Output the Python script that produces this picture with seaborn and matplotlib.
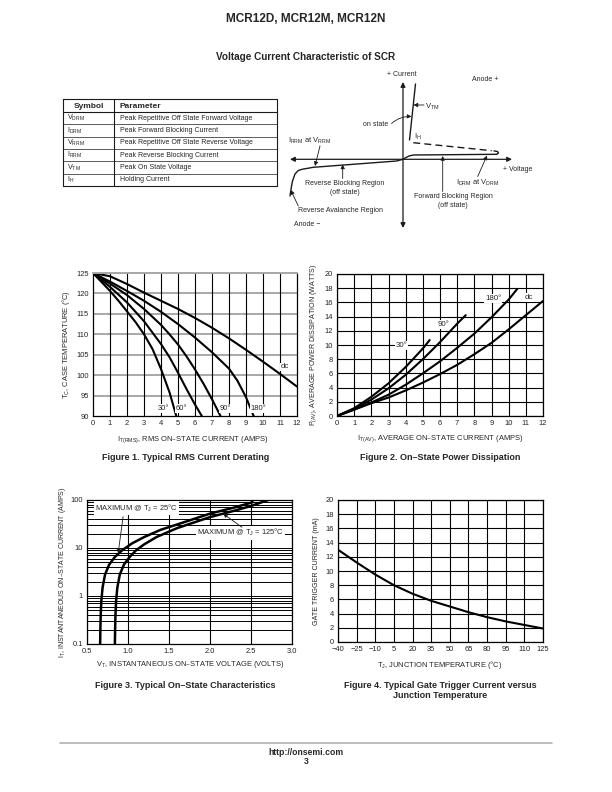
import numpy as np
import pandas as pd
import matplotlib
matplotlib.use("Agg")
import matplotlib.pyplot as plt
import seaborn as sns
from matplotlib.ticker import LogLocator, NullFormatter

sns.set_theme(style="white")
plt.rcParams['font.family'] = ['Liberation Sans', 'DejaVu Sans']
plt.rcParams['mathtext.default'] = 'regular'

# ---------------- data ----------------
# Figure 1: case temperature vs RMS current
f1_30_i = [0, 0.5, 1, 1.5, 2, 2.5, 3, 3.5, 4, 4.5, 4.9]
f1_30_t = [125, 122.8, 120.6, 118.2, 115.6, 113, 110, 106.4, 101.5, 95.8, 90]
f1_60_i = [0, 1, 2, 3, 4, 4.5, 5, 5.5, 6, 6.4]
f1_60_t = [125, 121.6, 117.8, 113.2, 107.6, 104.4, 100.6, 96.6, 92.8, 90]
f1_90_i = [0, 1, 2, 3, 4, 4.5, 5, 5.5, 6, 6.5, 7, 7.5]
f1_90_t = [125, 122.4, 119.6, 116.2, 112.3, 110.0, 107.5, 104.6, 101.4, 97.9, 94.1, 90]
f1_180_i = [0, 1, 2, 3, 4, 5, 6, 7, 8, 8.5, 9, 9.45]
f1_180_t = [125, 122.9, 120.6, 118.2, 115.5, 112.5, 109.2, 105.6, 101.6, 98.6, 94.6, 90]
f1_dc_i = [0, 1, 2, 3, 4, 5, 6, 7, 8, 9, 10, 11, 12]
f1_dc_t = [125, 124.2, 122.3, 120.2, 118.2, 116.2, 114, 111.6, 109, 106.2, 103.3, 100.3, 97.2]
f1_labels = ["30°", "60°", "90°", "180°"]
f1_label_x = [4.15, 5.2, 7.8, 9.75]

# Figure 2: power dissipation vs average current
f2_30_i = [0, 1, 2, 3, 4, 5, 5.4]
f2_30_p = [0, 1.1, 2.7, 4.6, 6.9, 9.5, 10.7]
f2_90_i = [0, 1, 2, 3, 4, 5, 6, 7, 7.5]
f2_90_p = [0, 1.0, 2.3, 3.9, 5.8, 8.0, 10.4, 13.0, 14.2]
f2_180_i = [0, 1, 2, 3, 4, 5, 6, 7, 8, 9, 10, 10.5]
f2_180_p = [0, 0.9, 1.9, 3.0, 4.4, 6.0, 7.7, 9.6, 11.6, 13.9, 16.4, 17.9]
f2_dc_i = [0, 1, 2, 3, 4, 5, 6, 7, 8, 9, 10, 11, 12]
f2_dc_p = [0, 0.9, 1.8, 2.6, 3.6, 4.7, 5.9, 7.2, 8.7, 10.3, 12.2, 14.2, 16.2]

# Figure 3: on-state characteristics
f3_25_v = [0.66, 0.663, 0.667, 0.675, 0.69, 0.72, 0.77, 0.84, 0.93, 1.05, 1.2, 1.4, 1.65, 2.0, 2.3, 2.52]
f3_25_i = [0.1, 0.2, 0.4, 0.8, 1.5, 2.8, 4.5, 6.5, 9, 12.5, 17, 24, 33, 52, 70, 90]
f3_125_v = [0.84, 0.843, 0.847, 0.855, 0.87, 0.9, 0.95, 1.02, 1.1, 1.2, 1.35, 1.6, 2.0, 2.3, 2.5, 2.71]
f3_125_i = [0.1, 0.2, 0.4, 0.8, 1.5, 2.8, 4.5, 6.5, 9, 12, 17, 26, 44, 60, 75, 100]

# Figure 4: gate trigger current vs junction temperature
f4_tj = [-40, -25, -10, 5, 20, 35, 50, 65, 80, 95, 110, 125]
f4_igt = [13.0, 11.2, 9.5, 8.0, 6.8, 5.8, 5.0, 4.2, 3.5, 2.9, 2.4, 1.9]

# Table
tbl_symbols = ["V$_{DRM}$", "I$_{DRM}$", "V$_{RRM}$", "I$_{RRM}$", "V$_{TM}$", "I$_{H}$"]
tbl_params = ["Peak Repetitive Off State Forward Voltage", "Peak Forward Blocking Current",
              "Peak Repetitive Off State Reverse Voltage", "Peak Reverse Blocking Current",
              "Peak On State Voltage", "Holding Current"]

# SCR characteristic sketch (schematic outline, page pixel coords)
scr_on_x = [415.5, 409.5]
scr_on_y = [84, 140]
scr_hold_x = [413.3, 491.7]
scr_hold_y = [142.7, 150.7]
scr_fwd_x = [403, 406, 409, 413.3, 496.7, 498.5, 497.5, 494]
scr_fwd_y = [159.3, 157.5, 156, 155, 154.3, 153, 151.5, 150.9]
scr_rev_x = [403, 396.7, 313.3, 302, 298.3, 295, 292.5, 291.2, 290]
scr_rev_y = [159.3, 161, 167.3, 169.3, 170.5, 174, 181, 188, 196]

W, H = 612, 792
fig = plt.figure(figsize=(W / 100, H / 100), dpi=100)
ov = fig.add_axes([0, 0, 1, 1])
ov.set_xlim(0, W)
ov.set_ylim(H, 0)
ov.axis("off")

def ax_at(x0, y0, x1, y1):
    return fig.add_axes([x0 / W, 1 - y1 / H, (x1 - x0) / W, (y1 - y0) / H])

TXT = 5.4
# ---------------- headers ----------------
ov.text(306, 19, "MCR12D, MCR12M, MCR12N", ha="center", va="center", fontsize=8.5, fontweight="bold")
ov.text(306, 57, "Voltage Current Characteristic of SCR", ha="center", va="center", fontsize=7.2, fontweight="bold")

# ---------------- table ----------------
tx0, tx1, ty0, thead = 63, 277, 99, 112
row_h = 12.35
ty1 = thead + row_h * 6
ov.plot([tx0, tx1, tx1, tx0, tx0], [ty0, ty0, ty1, ty1, ty0], color="k", lw=0.8)
ov.plot([tx0, tx1], [thead, thead], color="k", lw=0.8)
ov.plot([114, 114], [ty0, ty1], color="k", lw=0.8)
for k in range(1, 6):
    ov.plot([tx0, tx1], [thead + k * row_h] * 2, color="k", lw=0.5)
ov.text(89, (ty0 + thead) / 2 + 0.5, "Symbol", ha="center", va="center", fontsize=6, fontweight="bold")
ov.text(120, (ty0 + thead) / 2 + 0.5, "Parameter", ha="left", va="center", fontsize=6, fontweight="bold")
for k, (s, p) in enumerate(zip(tbl_symbols, tbl_params)):
    yc = thead + (k + 0.5) * row_h
    ov.text(67, yc, s, ha="left", va="center", fontsize=5.2)
    ov.text(120, yc, p, ha="left", va="center", fontsize=5.0)

# ---------------- SCR sketch ----------------
arr = dict(arrowstyle="-|>", color="k", lw=0.6, mutation_scale=6, shrinkA=0, shrinkB=0)
ov.annotate("", xy=(290, 159.3), xytext=(512, 159.3),
            arrowprops=dict(arrowstyle="<|-|>", color="k", lw=0.9, mutation_scale=7, shrinkA=0, shrinkB=0))
ov.annotate("", xy=(403, 82), xytext=(403, 228),
            arrowprops=dict(arrowstyle="<|-|>", color="k", lw=0.9, mutation_scale=7, shrinkA=0, shrinkB=0))
ov.plot(scr_on_x, scr_on_y, color="k", lw=1.0)
ov.plot(scr_hold_x, scr_hold_y, color="k", lw=1.0, ls=(0, (5, 3)))
ov.plot(scr_fwd_x, scr_fwd_y, color="k", lw=1.0)
ov.plot(scr_rev_x, scr_rev_y, color="k", lw=1.0)
SK = 5.0
ov.text(401.7, 74, "+ Current", ha="center", va="center", fontsize=SK)
ov.text(485, 79.3, "Anode +", ha="center", va="center", fontsize=SK)
ov.text(425, 106.5, "V$_{TM}$", ha="left", va="center", fontsize=SK + 0.5)
ov.annotate("", xy=(413.5, 105), xytext=(424, 105), arrowprops=arr)
ov.text(388.5, 125, "on state", ha="right", va="center", fontsize=SK)
ov.annotate("", xy=(411.5, 116.5), xytext=(391.5, 123.5),
            arrowprops=dict(arr, connectionstyle="arc3,rad=-0.2"))
ov.text(413.5, 137, "I$_{H}$", ha="left", va="center", fontsize=SK + 0.5)
ov.text(518, 169.5, "+ Voltage", ha="center", va="center", fontsize=SK)
ov.text(288.5, 140.5, "I$_{RRM}$ at V$_{RRM}$", ha="left", va="center", fontsize=SK + 0.4)
ov.annotate("", xy=(315, 166), xytext=(320, 146), arrowprops=arr)
ov.text(345, 183.5, "Reverse Blocking Region", ha="center", va="center", fontsize=SK)
ov.text(345, 193, "(off state)", ha="center", va="center", fontsize=SK)
ov.annotate("", xy=(342.7, 164.5), xytext=(342.7, 178.5), arrowprops=arr)
ov.text(340, 210.5, "Reverse Avalanche Region", ha="center", va="center", fontsize=SK)
ov.annotate("", xy=(290.7, 190), xytext=(298.3, 206), arrowprops=arr)
ov.text(307, 224.5, "Anode \u2212", ha="center", va="center", fontsize=SK)
ov.text(478, 183, "I$_{DRM}$ at V$_{DRM}$", ha="center", va="center", fontsize=SK + 0.4)
ov.annotate("", xy=(487, 155.5), xytext=(477.7, 176.5), arrowprops=arr)
ov.text(453.3, 196, "Forward Blocking Region", ha="center", va="center", fontsize=SK)
ov.text(453.3, 205.7, "(off state)", ha="center", va="center", fontsize=SK)
ov.annotate("", xy=(442.7, 156), xytext=(442.7, 191.5), arrowprops=arr)

# ---------------- helper for chart styling ----------------
def style(ax):
    ax.tick_params(axis="both", which="both", length=0, labelsize=TXT, pad=3, colors="#222222")
    for s in ax.spines.values():
        s.set_visible(True)
        s.set_color("black")
        s.set_linewidth(0.9)
    ax.set_xlabel("")
    ax.set_ylabel("")

def long_df(pairs):
    frames = []
    for name, (xs, ys) in pairs.items():
        frames.append(pd.DataFrame({"x": xs, "y": ys, "curve": name}))
    return pd.concat(frames, ignore_index=True)

# ---------------- Figure 1 ----------------
ax1 = ax_at(93, 273, 297, 416)
df1 = long_df({"30": (f1_30_i, f1_30_t), "60": (f1_60_i, f1_60_t), "90": (f1_90_i, f1_90_t),
               "180": (f1_180_i, f1_180_t), "dc": (f1_dc_i, f1_dc_t)})
sns.lineplot(data=df1, x="x", y="y", hue="curve", palette=["black"] * 5, sort=False,
             estimator=None, legend=False, lw=1.5, ax=ax1)
ax1.set_xlim(0, 12)
ax1.set_ylim(90, 125)
ax1.set_xticks(range(0, 13))
ax1.set_yticks(range(90, 126, 5))
for yv in range(95, 126, 5):
    ax1.axhline(yv, color="#a8a8a8", lw=1.4, zorder=0)
for xv in range(1, 12):
    ax1.axvline(xv, color="black", lw=0.8, zorder=0)
style(ax1)
ax1.spines["top"].set_color("#a8a8a8")
ax1.spines["top"].set_linewidth(1.4)
for lab, xv in zip(f1_labels, f1_label_x):
    ax1.text(xv, 91.8, lab, ha="center", va="center", fontsize=TXT,
             bbox=dict(facecolor="white", edgecolor="none", pad=0.6))
ax1.text(11.3, 102.0, "dc", ha="center", va="center", fontsize=TXT + 0.3,
         bbox=dict(facecolor="white", edgecolor="none", pad=0.6))
ov.text(193, 440, "I$_{T(RMS)}$, RMS ON\u2013STATE CURRENT (AMPS)", ha="center", va="center", fontsize=TXT)
ov.text(66, 344.5, "T$_{C}$, CASE TEMPERATURE (°C)", ha="center", va="center", fontsize=TXT, rotation=90)
ov.text(186, 458, "Figure 1. Typical RMS Current Derating", ha="center", va="center", fontsize=6.5, fontweight="bold")

# ---------------- Figure 2 ----------------
ax2 = ax_at(337, 274, 543, 416)
df2 = long_df({"30": (f2_30_i, f2_30_p), "90": (f2_90_i, f2_90_p),
               "180": (f2_180_i, f2_180_p), "dc": (f2_dc_i, f2_dc_p)})
sns.lineplot(data=df2, x="x", y="y", hue="curve", palette=["black"] * 4, sort=False,
             estimator=None, legend=False, lw=1.5, ax=ax2)
ax2.set_xlim(0, 12)
ax2.set_ylim(0, 20)
ax2.set_xticks(range(0, 13))
ax2.set_yticks(range(0, 21, 2))
ax2.grid(True, color="black", lw=0.8)
ax2.set_axisbelow(True)
style(ax2)
for lab, xv, yv in zip(["30°", "90°", "180°", "dc"], [3.75, 6.2, 9.1, 11.2], [9.9, 12.9, 16.5, 16.7]):
    ax2.text(xv, yv, lab, ha="center", va="center", fontsize=TXT + 0.3,
             bbox=dict(facecolor="white", edgecolor="none", pad=0.6))
ov.text(440, 439, "I$_{T(AV)}$, AVERAGE ON\u2013STATE CURRENT (AMPS)", ha="center", va="center", fontsize=TXT)
ov.text(314, 345, "P$_{(AV)}$, AVERAGE POWER DISSIPATION (WATTS)", ha="center", va="center", fontsize=TXT - 0.3, rotation=90)
ov.text(440, 458, "Figure 2. On\u2013State Power Dissipation", ha="center", va="center", fontsize=6.5, fontweight="bold")

# ---------------- Figure 3 ----------------
ax3 = ax_at(87, 500, 292, 644)
df3 = long_df({"25": (f3_25_v, f3_25_i), "125": (f3_125_v, f3_125_i)})
sns.lineplot(data=df3, x="x", y="y", hue="curve", palette=["black"] * 2, sort=False,
             estimator=None, legend=False, lw=1.8, ax=ax3)
ax3.set_yscale("log")
ax3.set_xlim(0.5, 3.0)
ax3.set_ylim(0.1, 100)
ax3.set_xticks([0.5, 1.0, 1.5, 2.0, 2.5, 3.0])
ax3.set_xticklabels(["0.5", "1.0", "1.5", "2.0", "2.5", "3.0"])
ax3.set_yticks([0.1, 1, 10, 100])
ax3.set_yticklabels(["0.1", "1", "10", "100"])
ax3.yaxis.set_minor_locator(LogLocator(base=10, subs=np.arange(2, 10)))
ax3.yaxis.set_minor_formatter(NullFormatter())
ax3.grid(True, which="both", axis="y", color="black", lw=0.7)
ax3.grid(True, which="major", axis="x", color="black", lw=0.8)
ax3.set_axisbelow(True)
style(ax3)
ax3.text(1.10, 68, "MAXIMUM @ T$_{J}$ = 25°C", ha="center", va="center", fontsize=TXT,
         bbox=dict(facecolor="white", edgecolor="none", pad=1.0))
ax3.annotate("", xy=(0.88, 7.8), xytext=(0.94, 45), arrowprops=arr)
ax3.text(2.37, 21, "MAXIMUM @ T$_{J}$ = 125°C", ha="center", va="center", fontsize=TXT,
         bbox=dict(facecolor="white", edgecolor="none", pad=1.0))
ax3.annotate("", xy=(2.16, 52), xytext=(2.39, 27), arrowprops=arr)
ov.text(190, 664, "V$_{T}$, INSTANTANEOUS ON\u2013STATE VOLTAGE (VOLTS)", ha="center", va="center", fontsize=TXT)
ov.text(62, 572, "I$_{T}$, INSTANTANEOUS ON\u2013STATE CURRENT (AMPS)", ha="center", va="center", fontsize=TXT - 0.4, rotation=90)
ov.text(185, 685, "Figure 3. Typical On\u2013State Characteristics", ha="center", va="center", fontsize=6.5, fontweight="bold")

# ---------------- Figure 4 ----------------
ax4 = ax_at(338, 500, 543, 642)
df4 = pd.DataFrame({"tj": f4_tj, "igt": f4_igt})
sns.lineplot(data=df4, x="tj", y="igt", color="black", lw=1.5, ax=ax4)
ax4.set_xlim(-40, 125)
ax4.set_ylim(0, 20)
xt4 = list(range(-40, 126, 15))
ax4.set_xticks(xt4)
ax4.set_xticklabels([str(v).replace("-", "\u2212") for v in xt4])
ax4.set_yticks(range(0, 21, 2))
ax4.grid(True, color="black", lw=0.8)
ax4.set_axisbelow(True)
style(ax4)
ov.text(440, 665, "T$_{J}$, JUNCTION TEMPERATURE (°C)", ha="center", va="center", fontsize=TXT)
ov.text(316, 571, "GATE TRIGGER CURRENT (mA)", ha="center", va="center", fontsize=TXT - 0.3, rotation=90)
ov.text(440, 685, "Figure 4. Typical Gate Trigger Current versus", ha="center", va="center", fontsize=6.5, fontweight="bold")
ov.text(440, 696, "Junction Temperature", ha="center", va="center", fontsize=6.5, fontweight="bold")

# ---------------- footer ----------------
ov.plot([60, 552], [743, 743], color="#b0b0b0", lw=1.2)
ov.text(306, 752.5, "http://onsemi.com", ha="center", va="center", fontsize=6.2, fontweight="bold")
ov.text(306, 762, "3", ha="center", va="center", fontsize=6.2, fontweight="bold")

fig.savefig("out.png", dpi=100)
